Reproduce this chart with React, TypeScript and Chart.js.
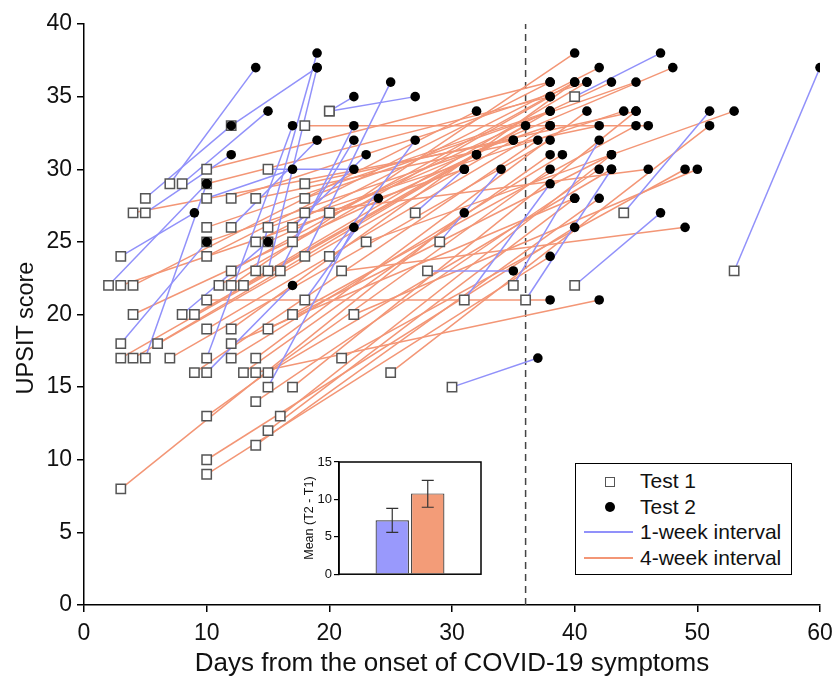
import React, { useEffect, useRef } from 'react';
import { Chart, registerables } from 'chart.js';
Chart.register(...registerables);

// 1-week interval pairs (Test 1 -> Test 2)
const weekT1Day = [3, 2, 3, 5, 7, 5, 8, 12, 14, 15, 10, 10, 10, 8, 12, 16, 17, 20, 20, 15, 18, 18, 17, 15, 20, 5, 29, 27, 28, 30, 31, 35, 36, 40, 40, 44, 53];
const weekT1Score = [24, 22, 18, 17, 29, 27, 29, 33, 23, 23, 28, 16, 17, 20, 26, 23, 25, 34, 34, 30, 21, 24, 26, 15, 24, 28, 25, 27, 23, 15, 21, 22, 21, 22, 35, 27, 23];
const weekT2Day = [9, 10, 10, 10, 14, 12, 15, 19, 19, 19, 17, 17, 17, 15, 19, 22, 22, 27, 22, 22, 24, 25, 23, 22, 27, 12, 34, 31, 35, 37, 38, 42, 43, 47, 47, 51, 60];
const weekT2Score = [27, 29, 25, 29, 37, 31, 34, 37, 38, 37, 30, 22, 33, 25, 32, 33, 32, 35, 35, 30, 28, 36, 31, 26, 32, 33, 30, 30, 23, 17, 29, 32, 30, 27, 38, 34, 37];

// 4-week interval pairs (Test 1 -> Test 2)
const monthT1Day = [3, 10, 10, 14, 15, 10, 16, 14, 17, 15, 14, 13, 9, 3, 4, 7, 12, 14, 21, 6, 12, 10, 12, 15, 4, 9, 17, 22, 10, 3, 4, 11, 12, 13, 12, 21, 10, 10, 14, 15, 23, 10, 15, 4, 18, 20, 12, 14, 18, 18, 10, 18, 25, 10];
const monthT1Score = [8, 9, 10, 11, 12, 13, 13, 14, 15, 16, 16, 16, 16, 17, 17, 17, 17, 17, 17, 18, 18, 19, 19, 19, 20, 20, 20, 20, 21, 22, 22, 22, 22, 22, 23, 23, 24, 25, 25, 25, 25, 26, 26, 27, 27, 27, 28, 28, 28, 29, 30, 33, 16, 29];
const monthT2Day = [31, 38, 40, 42, 40, 38, 43, 42, 45, 43, 42, 38, 37, 32, 35, 38, 39, 41, 49, 36, 40, 38, 40, 43, 32, 38, 45, 50, 38, 31, 32, 38, 40, 41, 40, 49, 38, 38, 42, 43, 53, 38, 44, 35, 46, 48, 41, 42, 45, 45, 38, 46, 51, 38];
const monthT2Score = [27, 24, 26, 28, 28, 30, 31, 30, 34, 30, 21, 31, 32, 31, 32, 32, 31, 34, 30, 33, 28, 33, 36, 31, 31, 34, 33, 30, 21, 30, 34, 35, 38, 36, 36, 26, 36, 33, 37, 36, 34, 34, 34, 32, 30, 37, 36, 33, 36, 34, 36, 33, 33, 35];

const dashDay = 36;

// inset bar chart
const insetLabels = ['', '1-week interval', '4-week interval', ''];
const insetMeans = [null, 7.2, 10.8, null];
const insetLow = [null, 5.6, 8.95, null];
const insetHigh = [null, 8.8, 12.55, null];

const BLUE = 'rgb(145,145,250)';
const ORANGE = 'rgb(243,150,118)';
const FONT = "'Liberation Sans', Arial, Helvetica, sans-serif";

function pairSets(d1: number[], s1: number[], d2: number[], s2: number[], color: string) {
  return d1.map((d, i) => ({
    data: [{ x: d, y: s1[i] }, { x: d2[i], y: s2[i] }],
    showLine: true,
    borderColor: color,
    borderWidth: 1.5,
    pointRadius: 0,
    pointHoverRadius: 0,
  }));
}

export default function App() {
  const mainRef = useRef<HTMLCanvasElement>(null);
  const insetRef = useRef<HTMLCanvasElement>(null);

  useEffect(() => {
    const t1 = [
      ...weekT1Day.map((d, i) => ({ x: d, y: weekT1Score[i] })),
      ...monthT1Day.map((d, i) => ({ x: d, y: monthT1Score[i] })),
    ];
    const t2 = [
      ...weekT2Day.map((d, i) => ({ x: d, y: weekT2Score[i] })),
      ...monthT2Day.map((d, i) => ({ x: d, y: monthT2Score[i] })),
    ];
    const dashPlugin = {
      id: 'dash',
      beforeDatasetsDraw(chart: any) {
        const { ctx, scales } = chart;
        const px = scales.x.getPixelForValue(dashDay);
        ctx.save();
        ctx.setLineDash([7, 5]);
        ctx.strokeStyle = '#444';
        ctx.lineWidth = 1.5;
        ctx.beginPath();
        ctx.moveTo(px, scales.y.getPixelForValue(0));
        ctx.lineTo(px, scales.y.getPixelForValue(40));
        ctx.stroke();
        ctx.restore();
      },
    };
    const main = new Chart(mainRef.current!, {
      type: 'scatter',
      data: {
        datasets: [
          {
            label: 'Test 2',
            data: t2,
            pointStyle: 'circle',
            pointRadius: 4.8,
            pointBackgroundColor: '#000',
            pointBorderColor: '#000',
            pointBorderWidth: 0,
          } as any,
          {
            label: 'Test 1',
            data: t1,
            pointStyle: 'rect',
            pointRadius: 6.6,
            pointBackgroundColor: '#fff',
            pointBorderColor: '#555',
            pointBorderWidth: 1.5,
          },
          ...pairSets(weekT1Day, weekT1Score, weekT2Day, weekT2Score, BLUE),
          ...pairSets(monthT1Day, monthT1Score, monthT2Day, monthT2Score, ORANGE),
        ],
      },
      options: {
        animation: false,
        responsive: false,
        events: [],
        layout: { padding: { top: 24, right: 16, left: 0, bottom: 0 } },
        plugins: { legend: { display: false }, tooltip: { enabled: false } },
        scales: {
          x: {
            type: 'linear',
            min: 0,
            max: 60,
            ticks: { stepSize: 10, color: '#111', font: { family: FONT, size: 23 }, padding: 8 },
            grid: { display: true, drawOnChartArea: false, drawTicks: true, tickLength: 7, color: '#000', lineWidth: 1.5 },
            border: { display: true, color: '#000', width: 1.5 },
            title: { display: true, text: 'Days from the onset of COVID-19 symptoms', color: '#111', font: { family: FONT, size: 26 }, padding: { top: 0, bottom: 0 } },
            afterFit: (s: any) => { s.height = 74; s.paddingLeft = 0; s.paddingRight = 0; },
          },
          y: {
            type: 'linear',
            min: 0,
            max: 40,
            ticks: { stepSize: 5, color: '#111', font: { family: FONT, size: 23 }, padding: 5 },
            grid: { display: true, drawOnChartArea: false, drawTicks: true, tickLength: 7, color: '#000', lineWidth: 1.5 },
            border: { display: true, color: '#000', width: 1.5 },
            title: { display: false, text: 'UPSIT score' },
            afterFit: (s: any) => { s.width = 84; },
          },
        },
      } as any,
      plugins: [dashPlugin],
    });

    const insetPlugin = {
      id: 'insetDecor',
      afterDatasetsDraw(chart: any) {
        const { ctx, chartArea, scales } = chart;
        const meta = chart.getDatasetMeta(0);
        ctx.save();
        ctx.strokeStyle = '#333';
        ctx.lineWidth = 1.2;
        meta.data.forEach((bar: any, i: number) => {
          if (insetMeans[i] == null) return;
          const x = bar.x;
          const yl = scales.y.getPixelForValue(insetLow[i] as number);
          const yh = scales.y.getPixelForValue(insetHigh[i] as number);
          ctx.beginPath();
          ctx.moveTo(x, yl); ctx.lineTo(x, yh);
          ctx.moveTo(x - 6, yl); ctx.lineTo(x + 6, yl);
          ctx.moveTo(x - 6, yh); ctx.lineTo(x + 6, yh);
          ctx.stroke();
        });
        ctx.strokeStyle = '#000';
        ctx.lineWidth = 1.5;
        ctx.strokeRect(chartArea.left, chartArea.top, chartArea.right - chartArea.left, chartArea.bottom - chartArea.top);
        ctx.restore();
      },
    };
    const inset = new Chart(insetRef.current!, {
      type: 'bar',
      data: {
        labels: insetLabels,
        datasets: [
          {
            data: insetMeans as any,
            backgroundColor: ['#fff', 'rgb(153,153,252)', 'rgb(243,156,120)', '#fff'],
            borderColor: '#333',
            borderWidth: 1.2,
            borderSkipped: 'bottom',
            barPercentage: 0.94,
            categoryPercentage: 1,
          },
        ],
      },
      options: {
        animation: false,
        responsive: false,
        events: [],
        layout: { padding: { top: 10, right: 8, left: 0, bottom: 8 } },
        plugins: { legend: { display: false }, tooltip: { enabled: false } },
        scales: {
          x: { display: false },
          y: {
            min: 0,
            max: 15,
            ticks: { stepSize: 5, color: '#111', font: { family: FONT, size: 13 }, padding: 2 },
            grid: { display: true, drawOnChartArea: false, drawTicks: true, tickLength: 5, color: '#000', lineWidth: 1.2 },
            border: { display: true, color: '#000', width: 1.5 },
            title: { display: true, text: 'Mean (T2 - T1)', color: '#111', font: { family: FONT, size: 12.5 }, padding: { top: 4, bottom: 0 } },
            afterFit: (s: any) => { s.width = 41; },
          },
        },
      } as any,
      plugins: [insetPlugin],
    });

    return () => {
      main.destroy();
      inset.destroy();
    };
  }, []);

  const rowText: React.CSSProperties = {
    position: 'absolute',
    left: 64,
    fontFamily: FONT,
    fontSize: 21,
    lineHeight: '24px',
    color: '#111',
    whiteSpace: 'nowrap',
  };

  return (
    <div style={{ position: 'fixed', left: 0, top: 0, width: 836, height: 679, background: '#fff' }}>
      <canvas ref={mainRef} width={836} height={679} style={{ position: 'absolute', left: 0, top: 0 }} />
      <div
        style={{
          position: 'absolute',
          left: 25 - 90,
          top: 328 - 14,
          width: 180,
          height: 28,
          lineHeight: '28px',
          textAlign: 'center',
          fontFamily: FONT,
          fontSize: 23.5,
          color: '#111',
          transform: 'rotate(-90deg)',
          whiteSpace: 'nowrap',
        }}
      >
        UPSIT score
      </div>
      <canvas ref={insetRef} width={191} height={132} style={{ position: 'absolute', left: 298, top: 452 }} />
      <div
        style={{
          position: 'absolute',
          left: 575,
          top: 463,
          width: 217,
          height: 112,
          border: '1.5px solid #000',
          boxSizing: 'border-box',
          background: '#fff',
        }}
      >
        <div style={{ position: 'absolute', left: 29, top: 13, width: 8, height: 8, border: '1.5px solid #555', background: '#fff' }} />
        <div style={{ ...rowText, top: 5 }}>Test 1</div>
        <div style={{ position: 'absolute', left: 29, top: 38, width: 10, height: 10, borderRadius: 5, background: '#000' }} />
        <div style={{ ...rowText, top: 31 }}>Test 2</div>
        <div style={{ position: 'absolute', left: 8, top: 67, width: 49, height: 2, background: BLUE }} />
        <div style={{ ...rowText, top: 56 }}>1-week interval</div>
        <div style={{ position: 'absolute', left: 8, top: 93, width: 49, height: 2, background: ORANGE }} />
        <div style={{ ...rowText, top: 82 }}>4-week interval</div>
      </div>
    </div>
  );
}
